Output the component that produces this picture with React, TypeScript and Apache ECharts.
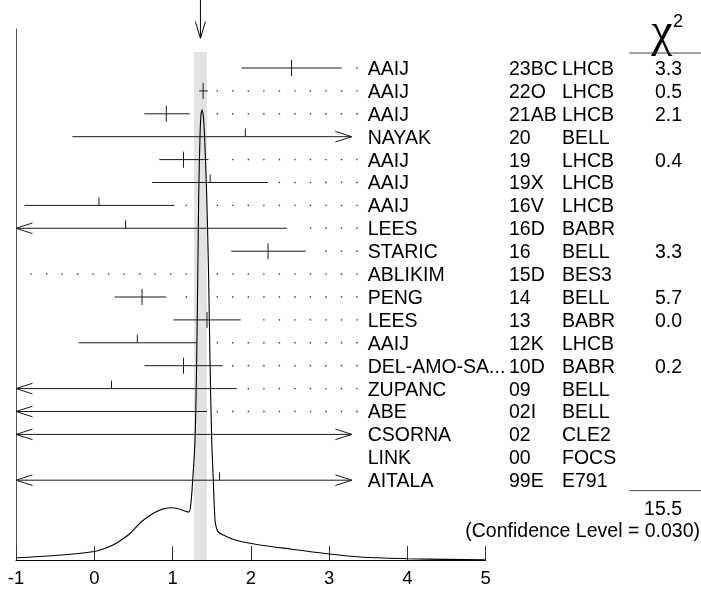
import React, { useEffect, useRef } from "react";
import * as echarts from "echarts";

// ---- data ----
const names = ["AAIJ", "AAIJ", "AAIJ", "NAYAK", "AAIJ", "AAIJ", "AAIJ", "LEES", "STARIC", "ABLIKIM", "PENG", "LEES", "AAIJ", "DEL-AMO-SA...", "ZUPANC", "ABE", "CSORNA", "LINK", "AITALA"];
const years = ["23BC", "22O", "21AB", "20", "19", "19X", "16V", "16D", "16", "15D", "14", "13", "12K", "10D", "09", "02I", "02", "00", "99E"];
const experiments = ["LHCB", "LHCB", "LHCB", "BELL", "LHCB", "LHCB", "LHCB", "BABR", "BELL", "BES3", "BELL", "BABR", "LHCB", "BABR", "BELL", "BELL", "CLE2", "FOCS", "E791"];
const chi2Text = ["3.3", "0.5", "2.1", "", "0.4", "", "", "", "3.3", "", "5.7", "0.0", "", "0.2", "", "", "", "", ""];
const values = [2.52, 1.39, 0.92, 1.93, 1.14, 1.48, 0.06, 0.40, 2.22, -3.0, 0.61, 1.44, 0.55, 1.14, 0.22, -1.3, -1.5, 5.5, 1.60];
const lows = [1.88, 1.34, 0.64, -0.28, 0.83, 0.74, -0.89, -1.66, 1.75, -5.0, 0.26, 1.01, -0.20, 0.64, -1.38, -4.04, -6.0, 4.5, -1.8];
const highs = [3.16, 1.45, 1.22, 4.13, 1.46, 2.22, 1.02, 2.46, 2.70, -1.5, 0.92, 1.87, 1.31, 1.64, 1.82, 1.44, 4.5, 6.5, 5.0];
const used = [1, 1, 1, 0, 1, 0, 0, 0, 1, 0, 1, 1, 0, 1, 0, 0, 0, 0, 0];

const average = 1.356;
const averageErr = 0.083;
const chi2Total = "15.5";
const confidenceText = "(Confidence Level = 0.030)";

// ideogram curve (x value, height)
const curveX = [-1.0, -0.5, 0.0, 0.15, 0.286, 0.45, 0.584, 0.7, 0.797, 0.9, 0.989, 1.06, 1.117, 1.17, 1.21, 1.236, 1.257, 1.287, 1.312, 1.334, 1.351, 1.363, 1.38, 1.395, 1.408, 1.423, 1.436, 1.459, 1.478, 1.5, 1.52, 1.542, 1.561, 1.584, 1.648, 1.8, 1.989, 2.5, 3.0, 3.4, 4.0, 4.5, 5.0];
const curveY = [2.2, 4.5, 8.5, 12, 17, 26, 37, 44, 48.5, 51.5, 52.3, 51.5, 50, 48.5, 48, 58, 80, 120, 220, 365, 425, 445, 450, 442, 425, 395, 365, 290, 200, 120, 80, 40, 32, 28, 25, 20, 16.7, 11, 6, 3, 1.3, 0.6, 0.3];

const FONT = "'Liberation Sans', Arial, Helvetica, sans-serif";
const X_CLIP = 3.29;
const TXT = 19.5;
const TICK_TXT = 18.5;

export default function App() {
  const ref = useRef<HTMLDivElement>(null);
  useEffect(() => {
    const chart = echarts.init(ref.current!, null, { renderer: "svg" });
    const rowData = names.map((_, i) => [i, values[i], lows[i], highs[i], used[i]]);
    const curveData = curveX.map((x, i) => [x, curveY[i]]);
    const lineStyle = { stroke: "#1a1a1a", lineWidth: 1 };

    const option: any = {
      animation: false,
      grid: { left: 16, right: 215.3, top: 29, bottom: 32 },
      xAxis: {
        type: "value",
        min: -1,
        max: 5,
        interval: 1,
        axisLine: { show: true, onZero: false, lineStyle: { color: "#000", width: 1 } },
        axisTick: { show: true, inside: true, length: 14, lineStyle: { color: "#333", width: 1 } },
        axisLabel: { show: true, fontSize: TICK_TXT, color: "#000", fontFamily: FONT, margin: 8 },
        splitLine: { show: false },
      },
      yAxis: [
        {
          type: "value",
          min: 0,
          max: 531,
          axisLine: { show: true, onZero: false, lineStyle: { color: "#555", width: 1 } },
          axisTick: { show: false },
          axisLabel: { show: false },
          splitLine: { show: false },
        },
        {
          type: "value",
          inverse: true,
          min: -1.703,
          max: 21.485,
          show: false,
          axisLine: { onZero: false },
          splitLine: { show: false },
        },
      ],
      graphic: [
        { type: "text", x: 662, y: 29, style: { text: "χ", fontSize: 48, fontFamily: "'Liberation Serif', 'DejaVu Serif', serif", fill: "#000", align: "center", verticalAlign: "middle" } },
        { type: "text", x: 673, y: 12, style: { text: "2", fontSize: 18, fontFamily: FONT, fill: "#000" } },
        { type: "line", shape: { x1: 629.3, y1: 53, x2: 701, y2: 53 }, style: { stroke: "#444", lineWidth: 1 } },
        { type: "line", shape: { x1: 629.3, y1: 490.7, x2: 701, y2: 490.7 }, style: { stroke: "#444", lineWidth: 1 } },
        { type: "text", x: 682, y: 508, style: { text: chi2Total, fontSize: TXT, fontFamily: FONT, fill: "#000", align: "right", verticalAlign: "middle" } },
        { type: "text", x: 700, y: 530, style: { text: confidenceText, fontSize: TXT, fontFamily: FONT, fill: "#000", align: "right", verticalAlign: "middle" } },
      ],
      series: [
        {
          type: "custom",
          name: "dots",
          xAxisIndex: 0,
          yAxisIndex: 1,
          z: 1,
          clip: false,
          data: rowData,
          renderItem: (params: any, api: any) => {
            const row = api.value(0);
            const lo = api.value(2);
            const hi = api.value(3);
            const children: any[] = [];
            if (lo >= X_CLIP) return { type: "group", children };
            const y = api.coord([0, row])[1];
            let startPx = -Infinity;
            if (hi > -1) startPx = api.coord([Math.min(hi, X_CLIP), row])[0] + 9.5;
            for (let k = 0; k <= 21; k++) {
              const px = api.coord([-0.808 + k * 0.1983, row])[0];
              if (px >= startPx) {
                children.push({ type: "rect", shape: { x: px - 0.7, y: y - 0.7, width: 1.4, height: 1.4 }, style: { fill: "#333" } });
              }
            }
            return { type: "group", children };
          },
        },
        {
          type: "custom",
          name: "average",
          xAxisIndex: 0,
          yAxisIndex: 0,
          z: 2,
          clip: false,
          data: [[average, averageErr]],
          renderItem: (params: any, api: any) => {
            const avg = api.value(0);
            const err = api.value(1);
            const x1 = api.coord([avg - err, 0])[0];
            const x2 = api.coord([avg + err, 0])[0];
            const xa = api.coord([avg, 0])[0];
            const yb = api.coord([0, 0])[1];
            const yt = api.coord([0, 508])[1];
            return {
              type: "group",
              children: [
                { type: "rect", shape: { x: x1, y: yt, width: x2 - x1, height: yb - yt }, style: { fill: "#e3e3e3" } },
                { type: "line", shape: { x1: xa, y1: 0, x2: xa, y2: 38 }, style: { stroke: "#000", lineWidth: 1 } },
                { type: "polyline", shape: { points: [[xa - 5, 21.7], [xa, 38.3], [xa + 5, 21.7]] }, style: { stroke: "#000", lineWidth: 1, fill: null } },
              ],
            };
          },
        },
        {
          type: "custom",
          name: "measurements",
          xAxisIndex: 0,
          yAxisIndex: 1,
          z: 3,
          clip: false,
          data: rowData,
          renderItem: (params: any, api: any) => {
            const i = params.dataIndex;
            const row = api.value(0);
            const v = api.value(1);
            const lo = api.value(2);
            const hi = api.value(3);
            const u = api.value(4);
            const y = api.coord([0, row])[1];
            const px = (d: number) => api.coord([d, row])[0];
            const children: any[] = [];
            const a = Math.max(lo, -1);
            const b = Math.min(hi, X_CLIP);
            if (b > a) {
              children.push({ type: "line", shape: { x1: px(a), y1: y, x2: px(b), y2: y }, style: lineStyle });
              if (lo < -1) {
                const x0 = px(-1);
                children.push({ type: "polyline", shape: { points: [[x0 + 16.5, y - 5.3], [x0, y], [x0 + 16.5, y + 5.3]] }, style: { ...lineStyle, fill: null } });
              }
              if (hi > X_CLIP) {
                const x0 = px(X_CLIP);
                children.push({ type: "polyline", shape: { points: [[x0 - 16.5, y - 5.3], [x0, y], [x0 - 16.5, y + 5.3]] }, style: { ...lineStyle, fill: null } });
              }
            }
            if (v >= -1 && v <= X_CLIP) {
              const xv = px(v);
              children.push({ type: "line", shape: { x1: xv, y1: y - 8, x2: xv, y2: u ? y + 8 : y }, style: lineStyle });
            }
            const ts = (text: string, x: number, align: string) => ({
              type: "text",
              x,
              y,
              style: { text, fontSize: TXT, fontFamily: FONT, fill: "#000", align, verticalAlign: "middle" },
            });
            children.push(ts(names[i], 367.7, "left"));
            children.push(ts(years[i], 509, "left"));
            children.push(ts(experiments[i], 562, "left"));
            if (chi2Text[i]) children.push(ts(chi2Text[i], 682, "right"));
            return { type: "group", children };
          },
        },
        {
          type: "line",
          name: "ideogram",
          xAxisIndex: 0,
          yAxisIndex: 0,
          z: 4,
          data: curveData,
          symbol: "none",
          smooth: 0.3,
          lineStyle: { color: "#000", width: 1.1 },
        },
      ],
    };
    chart.setOption(option);
    return () => chart.dispose();
  }, []);
  return <div ref={ref} style={{ position: "fixed", left: 0, top: 0, width: 701, height: 592 }} />;
}
